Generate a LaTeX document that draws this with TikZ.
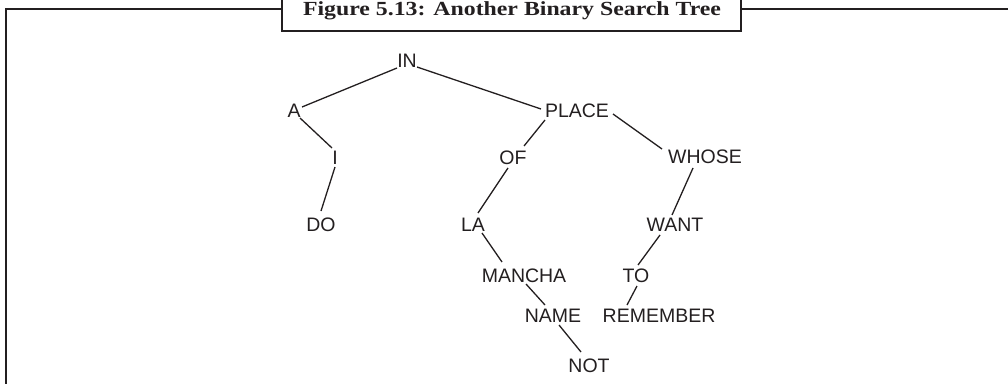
\documentclass[tikz,border=0pt]{standalone}
\usepackage{fontspec}
\newfontfamily\treefont{Liberation Sans}
\newfontfamily\titlefont[FakeStretch=1.19]{Liberation Serif Bold}
\usetikzlibrary{calc}
\definecolor{ink}{RGB}{35,31,32}
\begin{document}
\begin{tikzpicture}[x=1pt,y=-1pt,
  lbl/.style={font=\treefont\fontsize{19.5}{20}\selectfont, text=ink, inner sep=0pt, text height=14pt, text depth=0pt},
  edge/.style={draw=ink, line width=1.3pt},
  frameline/.style={draw=ink, line width=2.5pt},
  titlebox/.style={draw=ink, line width=2pt, fill=white}]
\useasboundingbox (0,0) rectangle (1008,383);
\clip (0,0) rectangle (1008,383);
% frame
\draw[frameline] (6,400) -- (6,9) -- (1020,9);
\draw[titlebox] (282,-10) rectangle (741,31);
\node[anchor=base, inner sep=0pt, text=ink, font=\titlefont\fontsize{20}{22}\selectfont] (title) at (512,15.5) {Figure 5.13: Another Binary Search Tree};
% nodes
\node[lbl] (IN) at (407,60) {IN};
\node[lbl] (A) at (294,110) {A};
\node[lbl] (PLACE) at (577,110) {PLACE};
\node[lbl] (I) at (335,157) {I};
\node[lbl] (OF) at (513,157) {OF};
\node[lbl] (WHOSE) at (705,156) {WHOSE};
\node[lbl] (DO) at (321,224) {DO};
\node[lbl] (LA) at (473,224) {LA};
\node[lbl] (WANT) at (675,224) {WANT};
\node[lbl] (MANCHA) at (524,275) {MANCHA};
\node[lbl] (TO) at (636,275) {TO};
\node[lbl] (NAME) at (553,315) {NAME};
\node[lbl] (REMEMBER) at (659,315) {REMEMBER};
\node[lbl] (NOT) at (589,365) {NOT};
% edges
\draw[edge] ($(IN)+(-10,8)$) -- ($(A)+(8,-3)$);
\draw[edge] ($(IN)+(10,7)$) -- ($(PLACE)+(-36,-1)$);
\draw[edge] ($(A)+(6,8)$) -- ($(I)+(-3,-9)$);
\draw[edge] ($(I)+(0,10)$) -- ($(DO)+(0,-13)$);
\draw[edge] ($(PLACE)+(-32,10)$) -- ($(OF)+(11,-11)$);
\draw[edge] ($(OF)+(-5,11)$) -- ($(LA)+(5,-11)$);
\draw[edge] ($(PLACE)+(36,4)$) -- ($(WHOSE)+(-43,-7)$);
\draw[edge] ($(WHOSE)+(-12,12)$) -- ($(WANT)+(-3,-9)$);
\draw[edge] ($(WANT)+(-15,11)$) -- ($(TO)+(2,-10)$);
\draw[edge] ($(TO)+(1,11)$) -- ($(REMEMBER)+(-32,-10)$);
\draw[edge] ($(LA)+(9,9)$) -- ($(MANCHA)+(-22,-13)$);
\draw[edge] ($(MANCHA)+(2,9)$) -- ($(NAME)+(-8,-10)$);
\draw[edge] ($(NAME)+(6,10)$) -- ($(NOT)+(-8,-13)$);
\end{tikzpicture}
\end{document}
